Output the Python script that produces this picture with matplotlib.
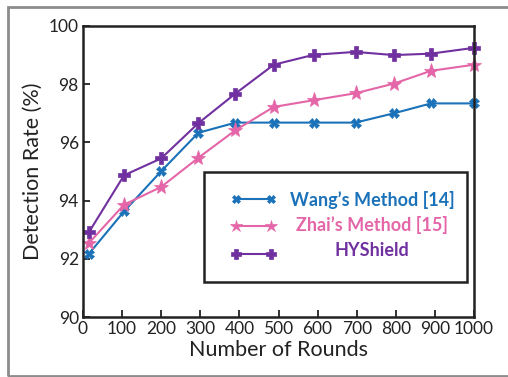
import matplotlib
matplotlib.use('Agg')
from matplotlib import pyplot as plt
from matplotlib.patches import Rectangle

plt.rcParams['font.family'] = ['Lato', 'DejaVu Sans']

# data
rounds = [15, 105, 200, 295, 390, 488, 590, 697, 795, 890, 1000]
wang = [92.17, 93.63, 95.01, 96.33, 96.68, 96.68, 96.68, 96.68, 97.0, 97.34, 97.34]
zhai = [92.54, 93.86, 94.47, 95.47, 96.42, 97.22, 97.45, 97.69, 98.02, 98.46, 98.67]
hyshield = [92.91, 94.87, 95.45, 96.66, 97.68, 98.67, 99.01, 99.11, 99.0, 99.05, 99.25]

labels = ["Wang’s Method [14]", "Zhai’s Method [15]", "HYShield"]
colors = ['#1b72b9', '#e466a8', '#7030a0']
xticks = [0, 100, 200, 300, 400, 500, 600, 700, 800, 900, 1000]
yticks = [90, 92, 94, 96, 98, 100]

fig = plt.figure(figsize=(5.08, 3.77), dpi=100)
ax = fig.add_axes([83 / 508, 60 / 377, 391 / 508, 291 / 377])

# outer grey frame
fig.patches.append(Rectangle((8 / 508, 1.5 / 377), 1.2, 369 / 377,
                             transform=fig.transFigure, fill=False,
                             edgecolor='#8c8c8c', lw=2))

l1, = ax.plot(rounds, wang, color=colors[0], marker='X', ms=7, lw=1.5, mew=0.5)
l2, = ax.plot(rounds, zhai, color=colors[1], marker='*', ms=11, lw=1.5, mew=0.5)
l3, = ax.plot(rounds, hyshield, color=colors[2], marker='P', ms=9, lw=1.5, mew=0.5)
for l in (l1, l2, l3):
    l.set_clip_on(False)

ax.set_xlim(0, 1000)
ax.set_ylim(90, 100)
ax.set_xticks(xticks)
ax.set_yticks(yticks)
ax.tick_params(direction='in', length=5, width=1.3, labelsize=12.5, colors='#222222', pad=3)
for s in ax.spines.values():
    s.set_linewidth(1.8)
    s.set_color('#222222')
ax.set_xlabel('Number of Rounds', fontsize=15.5, color='#222222', labelpad=2)
ax.set_ylabel('Detection Rate (%)', fontsize=15.5, color='#222222', labelpad=4)

# legend: handles from the legend, frame and centred coloured labels drawn by hand
leg = ax.legend([l1, l2, l3], ['', '', ''], frameon=False, loc='upper left',
                bbox_to_anchor=(0.357, 0.46), handlelength=2.6, handletextpad=0,
                labelspacing=0.66, fontsize=12.5, borderpad=0, numpoints=2)
for h in leg.legend_handles:
    h.set_markersize(h.get_markersize() * 0.8)
ax.add_patch(Rectangle((0.309, 0.12), 0.673, 0.378, transform=ax.transAxes,
                       fill=False, edgecolor='#222222', lw=1.8, zorder=5))
for i, (lab, c) in enumerate(zip(labels, colors)):
    ax.text(0.74, 0.402 - 0.086 * i, lab, transform=ax.transAxes, color=c,
            fontsize=13, fontweight='bold', ha='center', va='center')

plt.savefig('out.png', dpi=100)
